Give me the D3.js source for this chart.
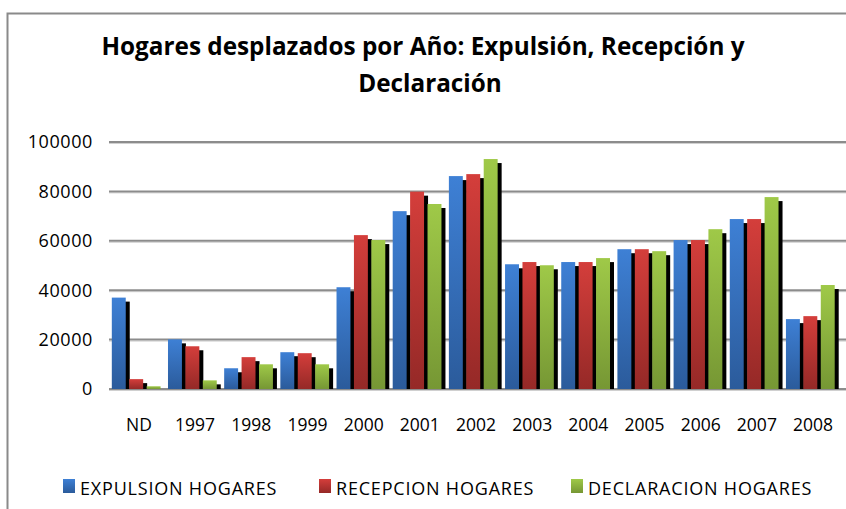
<!DOCTYPE html>
<html>
<head>
<meta charset="utf-8">
<script src="https://cdnjs.cloudflare.com/ajax/libs/d3/7.8.5/d3.min.js"></script>
<style>
  body { margin: 0; background: #fff; }
  text { font-family: "Open Sans", sans-serif; fill: #000; }
</style>
</head>
<body>
<div id="chart"></div>
<script>
const w = 846;
const h = 509;

const categories = ["ND", "1997", "1998", "1999", "2000", "2001", "2002", "2003", "2004", "2005", "2006", "2007", "2008"];
const seriesNames = ["EXPULSION HOGARES", "RECEPCION HOGARES", "DECLARACION HOGARES"];
const expulsion = [37000, 20100, 8400, 14900, 41200, 72000, 86200, 50500, 51400, 56600, 60300, 68800, 28300];
const recepcion = [4000, 17300, 12900, 14500, 62300, 79900, 87000, 51400, 51400, 56600, 60300, 68800, 29500];
const declaracion = [1100, 3500, 10000, 10000, 60300, 74900, 93100, 50100, 53000, 55800, 64700, 77700, 42100];
const yTicks = [0, 20000, 40000, 60000, 80000, 100000];

const series = [expulsion, recepcion, declaracion];
const colors = [
  ["#3e80d5", "#2b5b9b"],
  ["#d43e3b", "#952927"],
  ["#9fc948", "#769734"]
];

const svg = d3.select("#chart")
  .append("svg")
  .attr("width", w)
  .attr("height", h);

const defs = svg.append("defs");
colors.forEach((c, i) => {
  const g = defs.append("linearGradient")
    .attr("id", "grad" + i)
    .attr("x1", 0).attr("y1", 0).attr("x2", 0).attr("y2", 1);
  g.append("stop").attr("offset", "0%").attr("stop-color", c[0]);
  g.append("stop").attr("offset", "100%").attr("stop-color", c[1]);
});

// frame (right and bottom are cut off in the original)
svg.append("path")
  .attr("d", "M7.5,520 V13.5 H860")
  .attr("fill", "none")
  .attr("stroke", "#8a8a8a")
  .attr("stroke-width", 2);

// title
svg.append("text")
  .attr("x", 423).attr("y", 55)
  .attr("text-anchor", "middle")
  .style("font-size", "24.3px").style("font-weight", "bold")
  .text("Hogares desplazados por Año: Expulsión, Recepción y");
svg.append("text")
  .attr("x", 430).attr("y", 92)
  .attr("text-anchor", "middle")
  .style("font-size", "24.3px").style("font-weight", "bold")
  .text("Declaración");

const yScale = d3.scaleLinear()
  .domain([0, 100000])
  .range([389, 142]);

const x0 = d3.scaleBand()
  .domain(categories)
  .range([109, 841])
  .paddingInner(0.07)
  .paddingOuter(0.05);

const x1 = d3.scaleBand()
  .domain(d3.range(3))
  .range([0, x0.bandwidth()]);

const barW = x1.bandwidth() * 0.8;

// gridlines
const grid = svg.append("g");
yTicks.forEach(t => {
  grid.append("line")
    .attr("x1", 109).attr("x2", 846)
    .attr("y1", yScale(t) + 1.5).attr("y2", yScale(t) + 1.5)
    .attr("stroke", "#d0d0d0").attr("stroke-width", 1);
  grid.append("line")
    .attr("x1", 109).attr("x2", 846)
    .attr("y1", yScale(t)).attr("y2", yScale(t))
    .attr("stroke", "#8c8c8c").attr("stroke-width", 2);
});

// y labels
svg.append("g")
  .selectAll("text")
  .data(yTicks)
  .enter()
  .append("text")
  .attr("x", 93)
  .attr("y", d => yScale(d))
  .attr("dy", "0.35em")
  .attr("text-anchor", "end")
  .style("font-size", "18px")
  .style("letter-spacing", "0.6px")
  .text(d => d);

// bars with shadow
series.forEach((vals, si) => {
  const g = svg.append("g");
  g.selectAll("rect.shadow")
    .data(vals)
    .enter()
    .append("rect")
    .attr("class", "shadow")
    .attr("fill", "#000")
    .attr("x", (d, i) => x0(categories[i]) + x1(si) + 4)
    .attr("y", d => yScale(d) + 4)
    .attr("width", barW)
    .attr("height", d => Math.max(0, yScale(0) - yScale(d) - 4));
  g.selectAll("rect.bar")
    .data(vals)
    .enter()
    .append("rect")
    .attr("class", "bar")
    .attr("fill", "url(#grad" + si + ")")
    .attr("x", (d, i) => x0(categories[i]) + x1(si))
    .attr("y", d => yScale(d))
    .attr("width", barW)
    .attr("height", d => yScale(0) - yScale(d));
});

// x labels
svg.append("g")
  .selectAll("text")
  .data(categories)
  .enter()
  .append("text")
  .attr("x", d => x0(d) + x0.bandwidth() / 2 + 1)
  .attr("y", 431)
  .attr("text-anchor", "middle")
  .style("font-size", "17.5px")
  .text(d => d);

// legend
const legendX = [63, 319, 571];
const legend = svg.append("g");
seriesNames.forEach((name, i) => {
  legend.append("rect")
    .attr("x", legendX[i]).attr("y", 479)
    .attr("width", 12).attr("height", 14)
    .attr("fill", "url(#grad" + i + ")");
  legend.append("text")
    .attr("x", legendX[i] + 17).attr("y", 495)
    .style("font-size", "18px")
    .style("letter-spacing", "0.8px")
    .text(name);
});
</script>
</body>
</html>
